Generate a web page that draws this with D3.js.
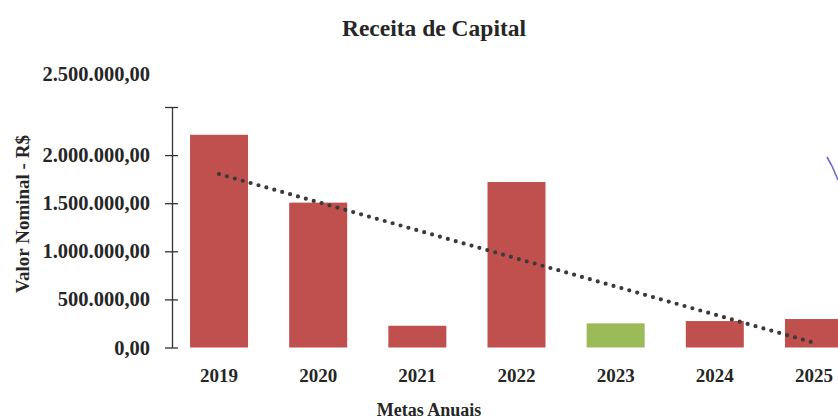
<!DOCTYPE html>
<html>
<head>
<meta charset="utf-8">
<script src="https://cdn.jsdelivr.net/npm/d3@7"></script>
<style>
  body { margin: 0; background: #fff; }
  text { font-family: "Liberation Serif", "DejaVu Serif", serif; font-weight: bold; fill: #262626; }
</style>
</head>
<body>
<div id="chart"></div>
<script>
// chart data
const years = ["2019", "2020", "2021", "2022", "2023", "2024", "2025"];
const values = [2211000, 1506000, 226000, 1720000, 251000, 275000, 296000];
const barColors = ["#c0504d", "#c0504d", "#c0504d", "#c0504d", "#9bbb59", "#c0504d", "#c0504d"];
const yTicks = [0, 500000, 1000000, 1500000, 2000000, 2500000];

const width = 838, height = 420;
const margin = {top: 107, right: -23, bottom: 72, left: 172};

const svg = d3.select("#chart").append("svg")
    .attr("width", width)
    .attr("height", height);

// scales - plot runs past the right edge, like the cropped scan
const x = d3.scaleBand()
    .domain(years)
    .range([margin.left, width - margin.right])
    .paddingInner(0.415)
    .paddingOuter(0.182);

const y = d3.scaleLinear()
    .domain([0, 2500000])
    .range([height - margin.bottom - 0.5, margin.top]);

// brazilian number format: 2.500.000,00
const ptBR = d3.formatLocale({decimal: ",", thousands: ".", grouping: [3], currency: ["R$", ""]});
const fmt = ptBR.format(",.2f");

// title
svg.append("text")
    .attr("x", 434)
    .attr("y", 36)
    .attr("text-anchor", "middle")
    .style("font-size", "23.5px")
    .text("Receita de Capital");

// bars
svg.append("g")
    .selectAll("rect")
    .data(values)
    .join("rect")
    .attr("x", (d, i) => x(years[i]))
    .attr("y", d => y(d))
    .attr("width", x.bandwidth())
    .attr("height", d => y(0) - y(d))
    .attr("fill", (d, i) => barColors[i]);

// y axis with cross ticks (Excel style)
const yAxis = svg.append("g")
    .attr("transform", `translate(${margin.left},0)`)
    .call(d3.axisLeft(y).tickValues(yTicks).tickFormat(fmt).tickSizeInner(7).tickSizeOuter(0).tickPadding(15));
yAxis.select(".domain").attr("stroke", "#333").attr("stroke-width", 1.3);
yAxis.selectAll(".tick line")
    .attr("x1", 6)
    .attr("x2", -7)
    .attr("stroke", "#333")
    .attr("stroke-width", 1.3);
yAxis.selectAll(".tick text")
    .style("font-size", "20.5px")
    .style("font-family", "Liberation Serif, serif")
    .attr("fill", "#262626");
// the top label sits above the plot in the original
yAxis.selectAll(".tick text")
    .filter(d => d === 2500000)
    .attr("dy", "-1.3em");

// x labels (no axis line)
const xAxis = svg.append("g")
    .attr("transform", `translate(0,${y(0)})`)
    .call(d3.axisBottom(x).tickSize(0).tickPadding(21));
xAxis.select(".domain").remove();
xAxis.selectAll(".tick text")
    .style("font-size", "19px")
    .style("font-family", "Liberation Serif, serif")
    .attr("fill", "#262626");

// axis titles
svg.append("text")
    .attr("x", 429)
    .attr("y", 416)
    .attr("text-anchor", "middle")
    .style("font-size", "18px")
    .text("Metas Anuais");

svg.append("text")
    .attr("transform", "translate(29,214) rotate(-90)")
    .attr("text-anchor", "middle")
    .style("font-size", "19px")
    .text("Valor Nominal - R$");

// linear trend line (least squares over the bars)
const n = values.length;
const xs = d3.range(1, n + 1);
const mx = d3.mean(xs), my = d3.mean(values);
const slope = d3.sum(xs, (v, i) => (v - mx) * (values[i] - my)) / d3.sum(xs, v => (v - mx) ** 2);
const icpt = my - slope * mx;
const trend = [[years[0], icpt + slope * 1], [years[n - 1], icpt + slope * n]];

svg.append("path")
    .datum(trend)
    .attr("d", d3.line()
        .x(d => x(d[0]) + x.bandwidth() / 2)
        .y(d => y(d[1])))
    .attr("fill", "none")
    .attr("stroke", "#3a3a3a")
    .attr("stroke-width", 4.2)
    .attr("stroke-linecap", "round")
    .attr("stroke-dasharray", "0 8.2");

// pen mark on the scan
svg.append("path")
    .attr("d", "M827,157 L832,166 L838,180")
    .attr("fill", "none")
    .attr("stroke", "#6b6bd6")
    .attr("stroke-width", 1.6);
</script>
</body>
</html>
